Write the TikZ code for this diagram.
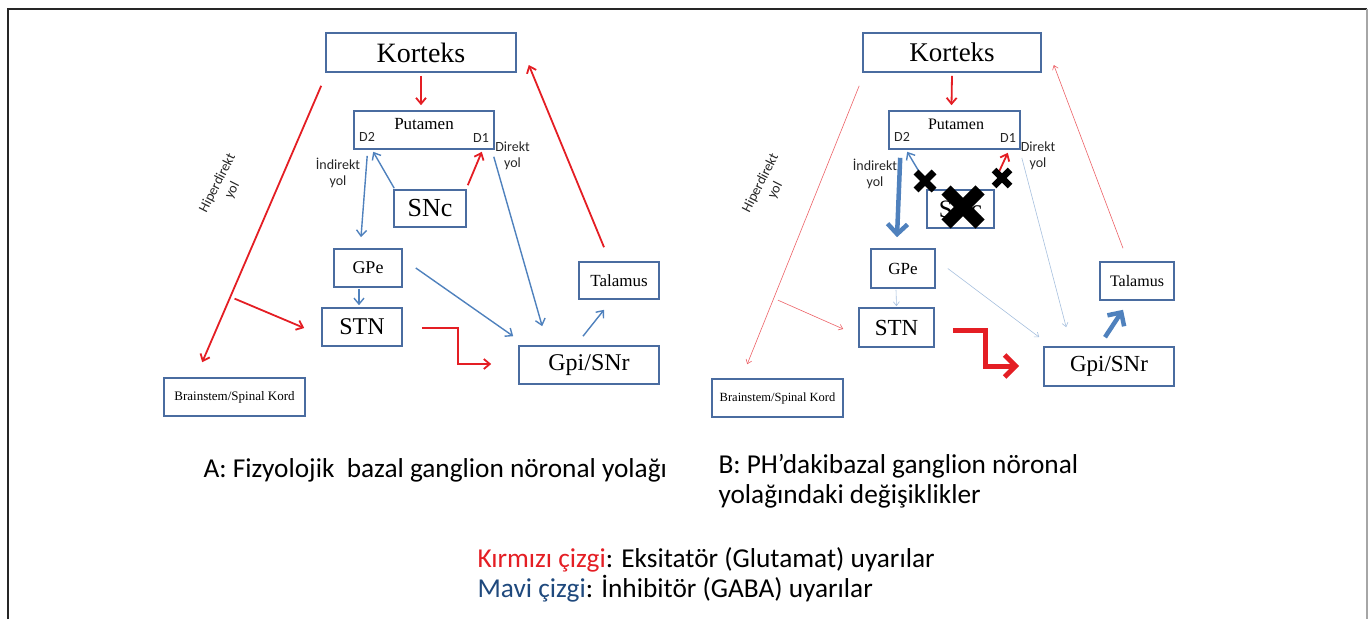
\documentclass[tikz,border=0pt]{standalone}
\usepackage{fontspec}
\setmainfont{Liberation Serif}
\newfontfamily\calibri{Carlito}
\usepackage{tikz}
\usetikzlibrary{arrows.meta,calc,positioning}
\usepackage{xcolor}
\definecolor{boxblue}{RGB}{74,108,160}
\definecolor{excred}{RGB}{228,30,36}
\definecolor{inhblue}{RGB}{79,129,189}
\definecolor{legblue}{RGB}{31,73,125}

\begin{document}
\begin{tikzpicture}[x=1pt,y=-1pt,
        box/.style={draw=boxblue,line width=1.6pt,inner sep=0pt},
        txt/.style={font=\fontsize{#1}{#1}\selectfont},
        lbl/.style={font=\calibri\fontsize{14}{16.5}\selectfont,align=center,text=black!85},
        captxt/.style={font=\calibri\fontsize{27.3}{29.5}\selectfont,anchor=west,align=left},
        exc/.style={-{Straight Barb[length=6pt,width=10pt]},line width=1.8pt,excred},
        inh/.style={-{Straight Barb[length=6pt,width=10pt]},line width=1.4pt,inhblue},
        weakexc/.style={-{Straight Barb[length=4pt,width=6pt]},line width=0.6pt,excred!70},
        weakinh/.style={-{Straight Barb[length=4pt,width=6pt]},line width=0.6pt,inhblue!50},
        strongexc/.style={-{Straight Barb[length=11pt,width=22pt]},line width=5pt,excred},
        stronginh/.style={-{Straight Barb[length=10pt,width=20pt]},line width=4.5pt,inhblue},
        xmark/.style={black,line cap=butt}
    ]
    \useasboundingbox (0,0) rectangle (1369,619);

    % --- Frame ---
    \draw[line width=2pt,black!85] (8,619) -- (8,9) -- (1367,9);
    \draw[line width=1.5pt,black!35] (1367,9) -- (1367,619);

    % --- A: boxes ---
    \node[box,txt=28,minimum width=190,minimum height=39] (korA) at (421,52.5) {Korteks};
    \node[box,minimum width=140,minimum height=38] (putA) at (424,130) {};
    \node[txt=17] (putAlbl) at (424,124.5) {Putamen};
    \node[lbl] (d2A) at (367,137) {D2};
    \node[lbl] (d1A) at (481,138) {D1};
    \node[box,txt=26,minimum width=72,minimum height=37] (sncA) at (430,208.5) {SNc};
    \node[box,txt=18,minimum width=68,minimum height=38] (gpeA) at (368,268) {GPe};
    \node[box,txt=24,minimum width=80,minimum height=38] (stnA) at (362,327) {STN};
    \node[box,txt=17,minimum width=80,minimum height=37] (talA) at (619,280.5) {Talamus};
    \node[box,txt=24,minimum width=140,minimum height=38] (gpiA) at (589,365) {Gpi/SNr};
    \node[box,txt=13,minimum width=141,minimum height=38] (bsA) at (234.5,397) {Brainstem/Spinal Kord};

    % --- A: pathways ---
    \coordinate (hsA) at ($(korA.south west)+(-4,13)$);
    \coordinate (heA) at ($(bsA.north west)+(39,-15)$);
    \draw[exc] ($(korA.south)+(0,3)$) -- ($(putA.north)+(-3,-5)$);
    \draw[exc] (hsA) -- (heA);
    \draw[exc] ($(hsA)!0.77!(heA)+(5,0)$) -- ($(stnA.west)+(-17,1)$);
    \draw[exc] ($(talA.north)+(-15,-14)$) -- ($(korA.east)+(12,12.5)$);
    \draw[exc] ($(stnA.east)+(19,1)$) -- ++(36,0) |- ($(gpiA.west)+(-27,-1)$);
    \draw[inh] ($(putA.south west)+(14,6)$) -- ($(gpeA.north)+(-7,-11)$);
    \draw[inh] ($(sncA.north west)+(1,-1)$) -- ($(putA.south west)+(20,2)$);
    \draw[exc] ($(sncA.north east)+(1,-4)$) -- ($(putA.south east)+(-13,2)$);
    \draw[inh] ($(putA.south east)+(-1,7)$) -- ($(gpiA.north west)+(24,-19)$);
    \draw[inh] ($(gpeA.east)+(13,0)$) -- ($(gpiA.north west)+(-5,-9)$);
    \draw[inh] ($(gpeA.south)+(-9,1)$) -- ($(stnA.north)+(-3,-2)$);
    \draw[inh] ($(gpiA.north)+(-6,-9)$) -- ($(talA.south)+(-15,10)$);

    % --- A: labels ---
    \node[lbl,rotate=63] (hypAlbl) at (225,187) {Hiperdirekt\\yol};
    \node[lbl] (indAlbl) at (338,173) {İndirekt\\yol};
    \node[lbl] (dirAlbl) at (512.5,156) {Direkt\\yol};

    % --- B: boxes ---
    \node[box,txt=27,minimum width=178,minimum height=39] (korB) at (952,52.5) {Korteks};
    \node[box,minimum width=131,minimum height=38] (putB) at (954.5,130) {};
    \node[txt=16] (putBlbl) at (956,124.5) {Putamen};
    \node[lbl] (d2B) at (902,137) {D2};
    \node[lbl] (d1B) at (1008,138) {D1};
    \node[box,txt=25,minimum width=67,minimum height=38] (sncB) at (960.5,209) {SNc};
    \node[box,txt=17,minimum width=64,minimum height=39] (gpeB) at (903,268.5) {GPe};
    \node[box,txt=23,minimum width=75,minimum height=39] (stnB) at (896.5,327.5) {STN};
    \node[box,txt=16,minimum width=74,minimum height=38] (talB) at (1137,281) {Talamus};
    \node[box,txt=23,minimum width=130,minimum height=39] (gpiB) at (1109,366.5) {Gpi/SNr};
    \node[box,txt=12.5,minimum width=131,minimum height=38] (bsB) at (777.5,398) {Brainstem/Spinal Kord};

    % --- B: pathways ---
    \coordinate (hsB) at ($(korB.south west)+(-3,13)$);
    \coordinate (heB) at ($(bsB.north west)+(36,-14)$);
    \draw[exc] ($(korB.south)+(0,3)$) -- ($(putB.north)+(-3,-5)$);
    \draw[weakexc] (hsB) -- (heB);
    \draw[weakexc] ($(hsB)!0.77!(heB)+(5,0)$) -- ($(stnB.west)+(-15,1.5)$);
    \draw[weakexc] ($(talB.north)+(-14,-13)$) -- ($(korB.east)+(12,12.5)$);
    \draw[strongexc] ($(stnB.east)+(18,2.5)$) -- ++(33,0) |- ($(gpiB.west)+(-24,-0.5)$);
    \draw[stronginh] ($(putB.south west)+(12,8)$) -- ($(gpeB.north)+(-6,-11)$);
    \draw[inh] ($(sncB.north west)+(1,-4)$) -- ($(putB.south west)+(19,2)$);
    \draw[exc] ($(sncB.north east)+(4,-17)$) -- ($(putB.south east)+(-13,3)$);
    \draw[weakinh] ($(putB.south east)+(1,8)$) -- ($(gpiB.north west)+(23,-19)$);
    \draw[weakinh] ($(gpeB.east)+(12,0)$) -- ($(gpiB.north west)+(-4,-9)$);
    \draw[weakinh] ($(gpeB.south)+(-7,1)$) -- ($(stnB.north)+(0,-1)$);
    \draw[stronginh] ($(gpiB.north)+(-4,-9)$) -- ($(talB.south)+(-14,9)$);

    % --- B: blocked dopamine ---
    \foreach \cx/\cy/\s/\w in {925/181/9/7, 1002/178/8/6.5, 963/207/17/13}{
        \draw[xmark,line width=\w pt] ({\cx-\s},{\cy-\s}) -- ({\cx+\s},{\cy+\s})
            ({\cx-\s},{\cy+\s}) -- ({\cx+\s},{\cy-\s});
    }

    % --- B: labels ---
    \node[lbl,rotate=63] (hypBlbl) at (768,187) {Hiperdirekt\\yol};
    \node[lbl] (indBlbl) at (875,174) {İndirekt\\yol};
    \node[lbl] (dirBlbl) at (1038,156) {Direkt\\yol};

    % --- Captions and legend ---
    \node[captxt] (capA) at (200,470) {A: Fizyolojik\ \ bazal ganglion nöronal yolağı};
    \node[captxt] (capB) at (715,481) {B: PH’dakibazal ganglion nöronal\\yolağındaki değişiklikler};
    \node[captxt] (legend) at (474,575)
        {\textcolor{excred}{Kırmızı çizgi}: Eksitatör (Glutamat) uyarılar\\
         \textcolor{legblue}{Mavi çizgi}: İnhibitör (GABA) uyarılar};

\end{tikzpicture}
\end{document}
